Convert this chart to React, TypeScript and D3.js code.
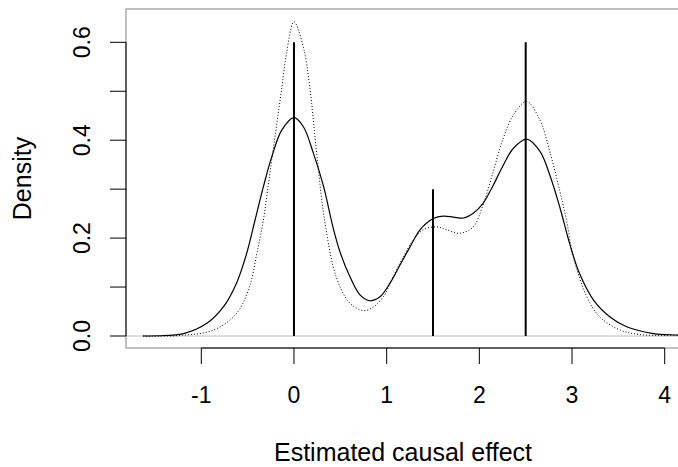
import React from "react";
import * as d3 from "d3";

// Solid curve (estimated density)
const solidX = [-1.63, -1.4, -1.19, -0.94, -0.76, -0.62, -0.51, -0.42, -0.33, -0.24, -0.13, 0.0, 0.1, 0.21, 0.32, 0.42, 0.496, 0.604, 0.712, 0.82, 0.928, 1.036, 1.144, 1.252, 1.36, 1.503, 1.61, 1.72, 1.83, 1.934, 2.04, 2.15, 2.258, 2.366, 2.51, 2.654, 2.76, 2.87, 2.98, 3.08, 3.23, 3.41, 3.59, 3.88, 4.14, 4.4];
const solidY = [0.0, 0.001, 0.005, 0.026, 0.06, 0.108, 0.169, 0.237, 0.305, 0.366, 0.421, 0.446, 0.428, 0.373, 0.305, 0.223, 0.172, 0.121, 0.084, 0.072, 0.08, 0.108, 0.145, 0.182, 0.217, 0.24, 0.245, 0.243, 0.241, 0.2506, 0.271, 0.308, 0.349, 0.383, 0.402, 0.377, 0.329, 0.262, 0.185, 0.128, 0.074, 0.039, 0.019, 0.005, 0.002, 0.0];

// Dotted curve (true density)
const dottedX = [-1.63, -1.23, -0.87, -0.62, -0.48, -0.4, -0.33, -0.28, -0.23, -0.18, -0.13, -0.08, 0.0, 0.1, 0.17, 0.245, 0.33, 0.46, 0.604, 0.748, 0.856, 0.964, 1.07, 1.18, 1.287, 1.395, 1.54, 1.647, 1.79, 1.934, 2.04, 2.15, 2.258, 2.366, 2.51, 2.654, 2.76, 2.87, 2.94, 3.01, 3.16, 3.3, 3.52, 3.73, 4.14, 4.4];
const dottedY = [0.0, 0.001, 0.012, 0.046, 0.101, 0.169, 0.237, 0.305, 0.373, 0.441, 0.509, 0.578, 0.642, 0.591, 0.509, 0.373, 0.237, 0.118, 0.067, 0.052, 0.059, 0.08, 0.121, 0.162, 0.196, 0.217, 0.223, 0.217, 0.21, 0.223, 0.268, 0.336, 0.404, 0.451, 0.479, 0.441, 0.377, 0.295, 0.237, 0.165, 0.08, 0.039, 0.012, 0.003, 0.001, 0.0];

// Vertical spikes (component locations and heights)
const spikeX = [0, 1.5, 2.5];
const spikeH = [0.6, 0.3, 0.6];

const xTicks = [-1, 0, 1, 2, 3, 4];
const yTicks = [0, 0.1, 0.2, 0.3, 0.4, 0.5, 0.6];
const yTickLabels = ["0.0", "0.2", "0.4", "0.6"];
const yLabelValues = [0, 0.2, 0.4, 0.6];

const W = 678;
const H = 467;
const box = { left: 126, top: 9, right: 680, bottom: 348 };

export default function App() {
  const x = d3.scaleLinear().domain([-1, 4]).range([201.3, 664.7]);
  const y = d3.scaleLinear().domain([0, 0.6]).range([336, 42.3]);

  const line = d3
    .line<[number, number]>()
    .x((d) => x(d[0]))
    .y((d) => y(d[1]))
    .curve(d3.curveCatmullRom.alpha(0.5));

  const solidPts: [number, number][] = solidX.map((v, i) => [v, solidY[i]]);
  const dottedPts: [number, number][] = dottedX.map((v, i) => [v, dottedY[i]]);

  const font = "'Liberation Sans', Arial, Helvetica, sans-serif";

  return (
    <svg
      width={W}
      height={H}
      style={{ position: "absolute", left: 0, top: 0, background: "#fff" }}
      fontFamily={font}
    >
      <defs>
        <clipPath id="plotclip">
          <rect x={box.left} y={box.top} width={box.right - box.left} height={box.bottom - box.top} />
        </clipPath>
      </defs>
      <rect x={0} y={0} width={W} height={H} fill="#fff" />
      {/* box */}
      <rect
        x={box.left}
        y={box.top}
        width={box.right - box.left}
        height={box.bottom - box.top}
        fill="none"
        stroke="#808080"
        strokeWidth={1}
      />
      <g clipPath="url(#plotclip)">
        {/* zero line */}
        <line x1={box.left} x2={box.right} y1={y(0)} y2={y(0)} stroke="#bebebe" strokeWidth={1} />
        {/* spikes */}
        {spikeX.map((v, i) => (
          <line key={i} x1={x(v)} x2={x(v)} y1={y(0)} y2={y(spikeH[i])} stroke="#000" strokeWidth={2} />
        ))}
        <path d={line(dottedPts) || ""} fill="none" stroke="#000" strokeWidth={1} strokeDasharray="1,2" />
        <path d={line(solidPts) || ""} fill="none" stroke="#000" strokeWidth={1.2} />
      </g>
      {/* x axis */}
      <line x1={x(-1)} x2={x(4)} y1={box.bottom} y2={box.bottom} stroke="#000" strokeWidth={1} />
      {xTicks.map((t) => (
        <g key={t}>
          <line x1={x(t)} x2={x(t)} y1={box.bottom} y2={box.bottom + 16} stroke="#000" strokeWidth={1} />
          <text x={x(t)} y={403} textAnchor="middle" fontSize={23} fill="#000">
            {t}
          </text>
        </g>
      ))}
      {/* y axis */}
      <line x1={box.left} x2={box.left} y1={y(0)} y2={y(0.6)} stroke="#000" strokeWidth={1} />
      {yTicks.map((t) => (
        <line key={t} x1={box.left - 16} x2={box.left} y1={y(t)} y2={y(t)} stroke="#000" strokeWidth={1} />
      ))}
      {yLabelValues.map((t, i) => (
        <text
          key={t}
          transform={`translate(90,${y(t)}) rotate(-90)`}
          textAnchor="middle"
          fontSize={23}
          fill="#000"
        >
          {yTickLabels[i]}
        </text>
      ))}
      {/* axis titles */}
      <text x={(box.left + box.right) / 2} y={461} textAnchor="middle" fontSize={25} fill="#000">
        Estimated causal effect
      </text>
      <text
        transform={`translate(31,${(box.top + box.bottom) / 2}) rotate(-90)`}
        textAnchor="middle"
        fontSize={25}
        fill="#000"
      >
        Density
      </text>
    </svg>
  );
}
